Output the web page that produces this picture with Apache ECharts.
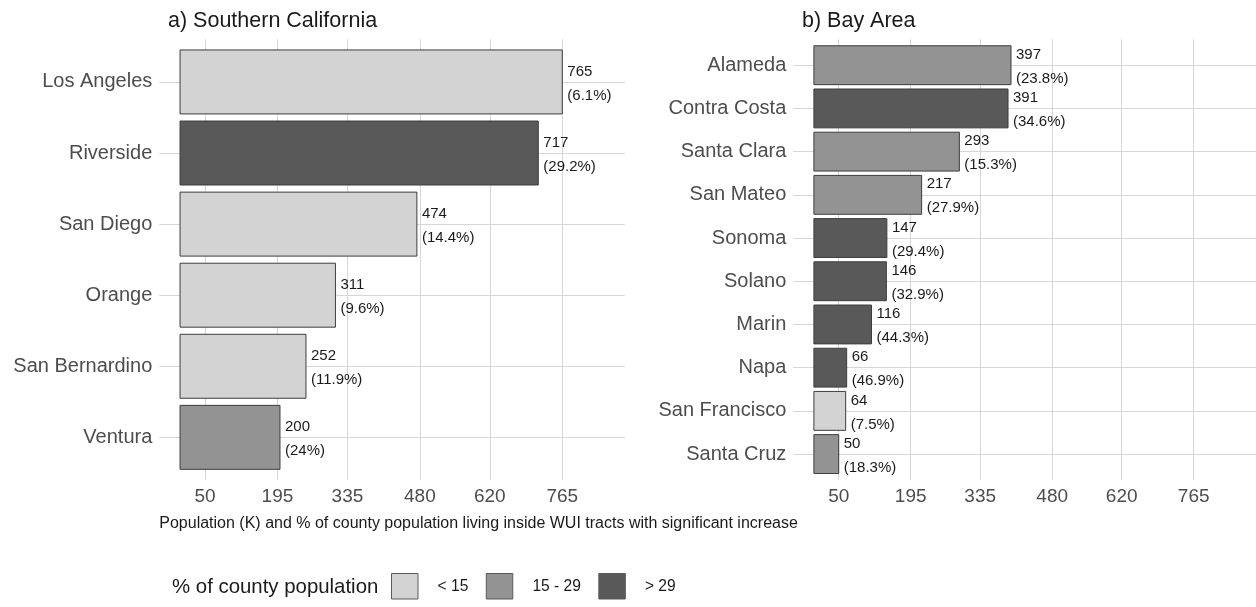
<!DOCTYPE html>
<html>
<head>
<meta charset="utf-8">
<title>WUI population by county</title>
<script src="https://cdn.jsdelivr.net/npm/echarts@6/dist/echarts.min.js"></script>
<style>
  html, body { margin: 0; padding: 0; background: #ffffff; }
  #chart { width: 1256px; height: 607px; }
</style>
</head>
<body>
<div id="chart"></div>
<script>
// Southern California counties
const socalCounties = ['Los Angeles', 'Riverside', 'San Diego', 'Orange', 'San Bernardino', 'Ventura'];
const socalPop = [765, 717, 474, 311, 252, 200];
const socalPct = [6.1, 29.2, 14.4, 9.6, 11.9, 24];

// Bay Area counties
const bayCounties = ['Alameda', 'Contra Costa', 'Santa Clara', 'San Mateo', 'Sonoma', 'Solano', 'Marin', 'Napa', 'San Francisco', 'Santa Cruz'];
const bayPop = [397, 391, 293, 217, 147, 146, 116, 66, 64, 50];
const bayPct = [23.8, 34.6, 15.3, 27.9, 29.4, 32.9, 44.3, 46.9, 7.5, 18.3];

// Shared x-axis ticks
const xTicks = [50, 195, 335, 480, 620, 765];

// Share-of-county classes
const classNames = ['< 15', '15 - 29', '> 29'];
const classFills = ['#d3d3d3', '#939393', '#595959'];

const FONT = 'Liberation Sans, Arial, Helvetica, sans-serif';
const GRID_COLOR = '#d6d6d6';

function classOf(pct) {
  if (pct < 15) return 0;
  if (pct <= 29) return 1;
  return 2;
}

function renderBar(params, api) {
  const v = api.value(0);
  const i = api.value(1);
  const pct = api.value(2);
  const p0 = api.coord([0, i - 0.45]);
  const p1 = api.coord([v, i + 0.45]);
  const mid = api.coord([v, i]);
  const y = Math.min(p0[1], p1[1]);
  const h = Math.abs(p1[1] - p0[1]);
  return {
    type: 'group',
    children: [
      {
        type: 'rect',
        shape: { x: p0[0], y: y, width: p1[0] - p0[0], height: h },
        style: { fill: api.visual('color'), stroke: '#3d3d3d', lineWidth: 1 }
      },
      {
        type: 'text',
        x: mid[0] + 5,
        y: mid[1] + 1.5,
        style: {
          text: v + '\n(' + pct + '%)',
          fill: '#1a1a1a',
          fontSize: 15,
          fontFamily: FONT,
          lineHeight: 24,
          align: 'left',
          verticalAlign: 'middle'
        }
      }
    ]
  };
}

function panelSeries(pop, pct, axisIndex) {
  return classNames.map(function (name, c) {
    const data = [];
    pop.forEach(function (v, i) {
      if (classOf(pct[i]) === c) data.push([v, i, pct[i]]);
    });
    return {
      type: 'custom',
      name: name,
      xAxisIndex: axisIndex,
      yAxisIndex: axisIndex,
      itemStyle: { color: classFills[c] },
      encode: { x: 0, y: 1 },
      renderItem: renderBar,
      data: data
    };
  });
}

function xAxisFor(gridIndex) {
  return {
    type: 'value',
    gridIndex: gridIndex,
    min: -41.5,
    max: 890.5,
    axisLine: { show: false },
    axisTick: { show: false, customValues: xTicks },
    axisLabel: {
      customValues: xTicks,
      color: '#4d4d4d',
      fontSize: 19,
      fontFamily: FONT,
      margin: 7
    },
    splitLine: { show: true, lineStyle: { color: GRID_COLOR, width: 1 } }
  };
}

function yAxisFor(gridIndex, names) {
  const idx = names.map(function (_, i) { return i; });
  return {
    type: 'value',
    gridIndex: gridIndex,
    inverse: true,
    min: -0.6,
    max: names.length - 0.4,
    axisLine: { show: false },
    axisTick: { show: false, customValues: idx },
    axisLabel: {
      customValues: idx,
      formatter: function (v) { return names[Math.round(v)]; },
      color: '#4d4d4d',
      fontSize: 20,
      fontFamily: FONT,
      margin: 7
    },
    splitLine: { show: true, lineStyle: { color: GRID_COLOR, width: 1 } }
  };
}

const chart = echarts.init(document.getElementById('chart'), null, { renderer: 'canvas' });

chart.setOption({
  backgroundColor: '#ffffff',
  animation: false,
  title: [
    {
      text: 'a) Southern California',
      left: 168, top: 10, padding: 0,
      textStyle: { fontSize: 21.5, fontWeight: 'normal', color: '#1a1a1a', fontFamily: FONT }
    },
    {
      text: 'b) Bay Area',
      left: 802, top: 10, padding: 0,
      textStyle: { fontSize: 21.5, fontWeight: 'normal', color: '#1a1a1a', fontFamily: FONT }
    }
  ],
  grid: [
    { left: 159.3, top: 39.3, width: 465.7, height: 440.7, containLabel: false },
    { left: 793.3, top: 39.3, width: 465, height: 440.7, containLabel: false }
  ],
  xAxis: [xAxisFor(0), xAxisFor(1)],
  yAxis: [yAxisFor(0, socalCounties), yAxisFor(1, bayCounties)],
  legend: {
    left: 391, top: 573,
    padding: 0,
    itemWidth: 26.5,
    itemHeight: 25.5,
    itemGap: 17.4,
    selectedMode: false,
    icon: 'rect',
    data: classNames.map(function (name, c) {
      return { name: name, itemStyle: { color: classFills[c], borderColor: '#5a5a5a', borderWidth: 1 } };
    }),
    textStyle: { fontSize: 15.6, color: '#1a1a1a', fontFamily: FONT, padding: [0, 0, 0, 14.6] }
  },
  graphic: [
    {
      type: 'text',
      left: 159.3, top: 515.5,
      style: {
        text: 'Population (K) and % of county population living inside WUI tracts with significant increase',
        fill: '#1a1a1a', fontSize: 16, fontFamily: FONT
      }
    },
    {
      type: 'text',
      left: 172, top: 577,
      style: {
        text: '% of county population',
        fill: '#1a1a1a', fontSize: 20.4, fontFamily: FONT
      }
    }
  ],
  series: panelSeries(socalPop, socalPct, 0).concat(panelSeries(bayPop, bayPct, 1))
});
</script>
</body>
</html>
